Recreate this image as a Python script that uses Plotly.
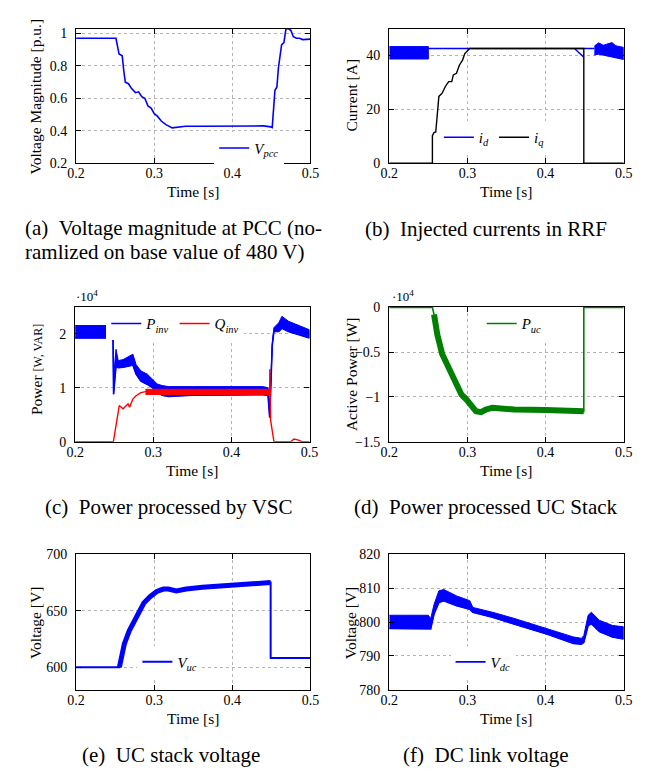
import plotly.graph_objects as go

W, H = 656, 777
SERIF = "Liberation Serif"
BLUE = "#0000ff"
RED = "#ff0000"
GREEN = "#008000"
BLACK = "#000000"

# ---------------- data ----------------
time_ticks = [0.2, 0.3, 0.4, 0.5]
time_ticktext = ["0.2", "0.3", "0.4", "0.5"]

# (a) PCC voltage magnitude [p.u.]
t_pcc = [0.2, 0.251, 0.255, 0.259, 0.261, 0.263, 0.267, 0.271, 0.276, 0.280, 0.284,
         0.288, 0.292, 0.296, 0.300, 0.304, 0.309, 0.315, 0.323, 0.331, 0.340, 0.360,
         0.400, 0.440, 0.449, 0.451, 0.4545, 0.457, 0.459, 0.463, 0.466, 0.4686,
         0.472, 0.475, 0.478, 0.482, 0.486, 0.490, 0.5]
v_pcc = [0.97, 0.97, 0.873, 0.862, 0.77, 0.70, 0.69, 0.66, 0.635, 0.64, 0.61,
         0.60, 0.553, 0.54, 0.505, 0.49, 0.46, 0.438, 0.418, 0.422, 0.428, 0.428,
         0.43, 0.43, 0.424, 0.42, 0.65, 0.67, 0.79, 0.93, 0.943, 1.03,
         1.03, 1.018, 0.98, 0.97, 0.97, 0.962, 0.965]
pcc_yticks = [0.2, 0.4, 0.6, 0.8, 1.0]
pcc_yticktext = ["0.2", "0.4", "0.6", "0.8", "1"]

# (b) currents in the rotating reference frame [A]
t_id_ripple1 = [0.2, 0.25]
id_hi1 = [43.3, 43.3]
id_lo1 = [38.7, 38.7]
t_id_flat = [0.25, 0.4625]
id_flat = [42.6, 42.6]
t_id_dip = [0.437, 0.449]
id_dip = [42.6, 39.4]
t_id_ripple2 = [0.4625, 0.468, 0.474, 0.48, 0.485, 0.49, 0.495, 0.5]
id_hi2 = [43.5, 44.7, 43.8, 44.4, 44.8, 43.6, 43.3, 43.0]
id_lo2 = [40.2, 40.5, 40.2, 39.8, 39.5, 39.2, 38.8, 38.5]
t_iq = [0.2, 0.2552, 0.2552, 0.2573, 0.2595, 0.2614, 0.2635, 0.2677, 0.2718, 0.276,
        0.280, 0.282, 0.286, 0.2897, 0.2938, 0.2967, 0.301, 0.303, 0.449, 0.449, 0.5]
iq = [0, 0, 10.2, 11.4, 11.6, 18.7, 24.8, 26.0, 28.5, 30.3,
      30.3, 32.8, 33.4, 36.4, 38.3, 40.7, 42.2, 42.6, 42.6, 0, 0]
cur_yticks = [0, 20, 40]

# (c) VSC active / reactive power [W, VAR]
t_pinv = [0.2, 0.2481, 0.2486, 0.2492, 0.2523, 0.2552, 0.2614, 0.2697, 0.2739, 0.278,
          0.2842, 0.2925, 0.2988, 0.305, 0.3112, 0.3195, 0.35, 0.40, 0.44, 0.4469,
          0.449, 0.4523, 0.4544, 0.4606, 0.4647, 0.473, 0.4855, 0.5]
pinv_hi = [21500, 21500, 19500, 12000, 17100, 15000, 15200, 15900, 16200, 14300,
           13100, 12500, 11600, 10700, 10400, 10200, 10200, 10200, 10200, 10000,
           6000, 18300, 21100, 22000, 23200, 22300, 21500, 20700]
pinv_lo = [19200, 19200, 18500, 8800, 14000, 13700, 13800, 14000, 14200, 12500,
           11200, 10600, 10000, 9400, 8600, 8400, 8600, 8700, 8700, 8600,
           4500, 17800, 20400, 20400, 21000, 20400, 19800, 19200]
t_qinv = [0.2, 0.2489, 0.2565, 0.2614, 0.2677, 0.2697, 0.2739, 0.278, 0.2842, 0.2946,
          0.3029, 0.449, 0.4492, 0.4502, 0.4525, 0.4545, 0.476, 0.480, 0.486, 0.490, 0.5]
qinv = [0, 0, 6700, 6100, 7000, 6400, 7900, 8500, 9100, 9400,
        9300, 9250, 13400, 4000, 1800, 0, 0, 500, 300, 0, 0]
t_qinv_ripple = [0.29, 0.449]
qinv_hi = [9700, 9700]
qinv_lo = [8750, 8750]
pow_yticks = [0, 10000, 20000]
pow_yticktext = ["0", "1", "2"]

# (d) UC stack active power [W]
t_puc = [0.2, 0.2552, 0.2573, 0.2614, 0.2677, 0.274, 0.280, 0.2863, 0.2925, 0.2988,
         0.305, 0.311, 0.3174, 0.3237, 0.332, 0.34, 0.36, 0.40, 0.44, 0.449, 0.449, 0.5]
puc = [0, 0, -800, -3000, -5200, -6300, -7550, -8800, -9750, -10300,
       -11000, -11600, -11700, -11400, -11200, -11300, -11400, -11450, -11500, -11600, 0, 0]
puc_yticks = [-15000, -10000, -5000, 0]
puc_yticktext = ["\u22121.5", "\u22121", "\u22120.5", "0"]

# (e) UC stack voltage [V]
t_vuc = [0.2, 0.2554, 0.2575, 0.2617, 0.268, 0.274, 0.280, 0.2867, 0.295, 0.3033,
         0.3117, 0.318, 0.3283, 0.341, 0.3617, 0.4033, 0.445, 0.449, 0.449, 0.5]
vuc = [600, 600, 609, 620.6, 632.2, 640.9, 649.6, 656.8, 662.6, 667.0,
       669.2, 669.2, 667.5, 669.2, 670.7, 672.4, 674.4, 675.0, 608.1, 608.1]
vuc_yticks = [600, 650, 700]

# (f) DC link voltage [V]
t_vdc = [0.2, 0.25, 0.253, 0.2573, 0.2635, 0.2697, 0.2863, 0.303, 0.307, 0.332,
         0.361, 0.4026, 0.4357, 0.446, 0.449, 0.4545, 0.4587, 0.469, 0.4857, 0.5]
vdc_hi = [802.0, 802.0, 801.0, 805.2, 809.2, 809.6, 807.7, 806.3, 804.3, 802.9,
          801.0, 798.1, 795.6, 795.2, 796.0, 802.0, 802.9, 800.5, 799.0, 798.6]
vdc_lo = [798.1, 798.1, 798.0, 802.4, 805.8, 806.3, 804.8, 803.8, 802.9, 801.4,
          799.3, 796.4, 793.7, 793.5, 794.0, 799.0, 799.5, 797.2, 795.6, 795.0]
vdc_yticks = [780, 790, 800, 810, 820]

# ---------------- layout geometry (pixels) ----------------
panels = {
    "a": dict(x=(69, 310), y=(22, 159.3)),
    "b": dict(x=(391, 632), y=(22, 159.3)),
    "c": dict(x=(68, 309), y=(305.5, 443.3)),
    "d": dict(x=(391, 632), y=(306, 443.3)),
    "e": dict(x=(69, 310), y=(558, 696.3)),
    "f": dict(x=(391, 632), y=(558, 696.3)),
}


def xdom(p):
    return [p["x"][0] / W, p["x"][1] / W]


def ydom(p):
    return [1 - p["y"][1] / H, 1 - p["y"][0] / H]


fig = go.Figure()


def line(t, v, color, width, xa, ya, name=None, legend=None):
    fig.add_trace(go.Scatter(
        x=t, y=v, mode="lines", name=name or "",
        line=dict(color=color, width=width),
        showlegend=name is not None, legend=legend,
        xaxis=xa, yaxis=ya, hoverinfo="skip"))


def ripple(t, hi, lo, color, xa, ya):
    # ripple envelope drawn as a closed filled outline
    fig.add_trace(go.Scatter(
        x=list(t) + list(t)[::-1], y=list(hi) + list(lo)[::-1], mode="lines",
        fill="toself", fillcolor=color, line=dict(color=color, width=1),
        showlegend=False, xaxis=xa, yaxis=ya, hoverinfo="skip"))


# (a)
line(t_pcc, v_pcc, BLUE, 1.6, "x", "y", "<i>V</i><sub><i>pcc</i></sub>", "legend")

# (b)
ripple(t_id_ripple1, id_hi1, id_lo1, BLUE, "x2", "y2")
ripple(t_id_ripple2, id_hi2, id_lo2, BLUE, "x2", "y2")
line(t_id_dip, id_dip, BLUE, 1.4, "x2", "y2")
line(t_id_flat, id_flat, BLUE, 1.6, "x2", "y2", "<i>i</i><sub><i>d</i></sub>", "legend2")
line(t_iq, iq, BLACK, 1.4, "x2", "y2", "<i>i</i><sub><i>q</i></sub>", "legend2")

# (c)
ripple(t_pinv, pinv_hi, pinv_lo, BLUE, "x3", "y3")
line(t_pinv, pinv_lo, BLUE, 1.6, "x3", "y3", "<i>P</i><sub><i>inv</i></sub>", "legend3")
line(t_qinv, qinv, RED, 1.4, "x3", "y3", "<i>Q</i><sub><i>inv</i></sub>", "legend3")
ripple(t_qinv_ripple, qinv_hi, qinv_lo, RED, "x3", "y3")

# (d) thin trace for the whole record, thicker for the discharge interval
line(t_puc, puc, GREEN, 1.6, "x4", "y4", "<i>P</i><sub><i>uc</i></sub>", "legend4")
line(t_puc[2:-2], puc[2:-2], GREEN, 6, "x4", "y4")

# (e)
line(t_vuc, vuc, BLUE, 2.0, "x5", "y5", "<i>V</i><sub><i>uc</i></sub>", "legend5")
line(t_vuc[1:-2], vuc[1:-2], BLUE, 5, "x5", "y5")

# (f)
ripple(t_vdc, vdc_hi, vdc_lo, BLUE, "x6", "y6")
line(t_vdc, vdc_lo, BLUE, 1.6, "x6", "y6", "<i>V</i><sub><i>dc</i></sub>", "legend6")

tickfont = dict(family=SERIF, size=14, color="black")
common = dict(ticks="inside", ticklen=5, tickwidth=1, tickcolor="black",
              showline=True, linecolor="black", linewidth=1.2, mirror="allticks",
              showgrid=True, gridcolor="#b4b4b4", griddash="dot", gridwidth=1,
              zeroline=False, tickfont=tickfont)

axes = {}
specs = [
    ("a", "", [0.2, 1.03], pcc_yticks, pcc_yticktext),
    ("b", "2", [0, 50], cur_yticks, [str(v) for v in cur_yticks]),
    ("c", "3", [0, 25000], pow_yticks, pow_yticktext),
    ("d", "4", [-15000, 30], puc_yticks, puc_yticktext),
    ("e", "5", [580, 700], vuc_yticks, [str(v) for v in vuc_yticks]),
    ("f", "6", [780, 820], vdc_yticks, [str(v) for v in vdc_yticks]),
]
for key, n, yr, yt, ytt in specs:
    p = panels[key]
    axes["xaxis" + n] = dict(common, domain=xdom(p), anchor="y" + n, range=[0.2, 0.5],
                             tickvals=time_ticks, ticktext=time_ticktext,
                             ticklabelstandoff=-3)
    axes["yaxis" + n] = dict(common, domain=ydom(p), anchor="x" + n, range=yr,
                             tickvals=yt, ticktext=ytt, ticklabelstandoff=5)
axes["xaxis4"]["layer"] = "below traces"
axes["yaxis4"]["layer"] = "below traces"


def leg(x_px, y_px):
    return dict(x=x_px / W, y=1 - y_px / H, xanchor="left", yanchor="middle",
                orientation="h", bgcolor="white", borderwidth=0, itemwidth=30,
                font=dict(family=SERIF, size=15, color="black"))


legends = dict(
    legend=leg(211, 144),
    legend2=leg(442, 133),
    legend3=leg(100, 323),
    legend4=leg(486, 323),
    legend5=leg(132, 668),
    legend6=leg(454, 668),
)

ann = []


def text(s, x_px, y_px, size, angle=0, xanchor="center"):
    ann.append(dict(text=s, x=x_px / W, y=1 - y_px / H, xref="paper", yref="paper",
                    showarrow=False, textangle=angle, xanchor=xanchor, yanchor="middle",
                    font=dict(family=SERIF, size=size, color="black")))


# axis titles
for key, ytitle, ytx, yty in [
    ("a", "Voltage Magnitude [p.u.]", 27, 91),
    ("b", "Current [A]", 352, 90),
    ("c", "Power <span style='font-size:12px'>[W, VAR]</span>", 29, 370),
    ("d", "Active Power [W]", 352, 374),
    ("e", "Voltage [V]", 28, 628),
    ("f", "Voltage [V]", 352, 628),
]:
    p = panels[key]
    text(ytitle, ytx, yty, 15.5, angle=-90)
    text("Time [s]", (p["x"][0] + p["x"][1]) / 2, p["y"][1] + 29, 15.5)

# scale factors
text("\u00b710<sup>4</sup>", 67, 295, 13, xanchor="left")
text("\u00b710<sup>4</sup>", 392, 295, 13, xanchor="left")

# sub-captions
text("(a)&nbsp;&nbsp;Voltage magnitude at PCC (no-", 14, 225, 21, xanchor="left")
text("ramlized on base value of 480 V)", 14, 250, 21, xanchor="left")
text("(b)&nbsp;&nbsp;Injected currents in RRF", 490, 226, 21)
text("(c)&nbsp;&nbsp;Power processed by VSC", 165, 510, 21)
text("(d)&nbsp;&nbsp;Power processed UC Stack", 490, 510, 21)
text("(e)&nbsp;&nbsp;UC stack voltage", 167, 763, 21)
text("(f)&nbsp;&nbsp;DC link voltage", 490, 763, 21)

fig.update_layout(
    width=W, height=H, margin=dict(l=0, r=0, t=0, b=0),
    paper_bgcolor="white", plot_bgcolor="white",
    annotations=ann, **axes, **legends,
)

fig.write_html("out.html")
